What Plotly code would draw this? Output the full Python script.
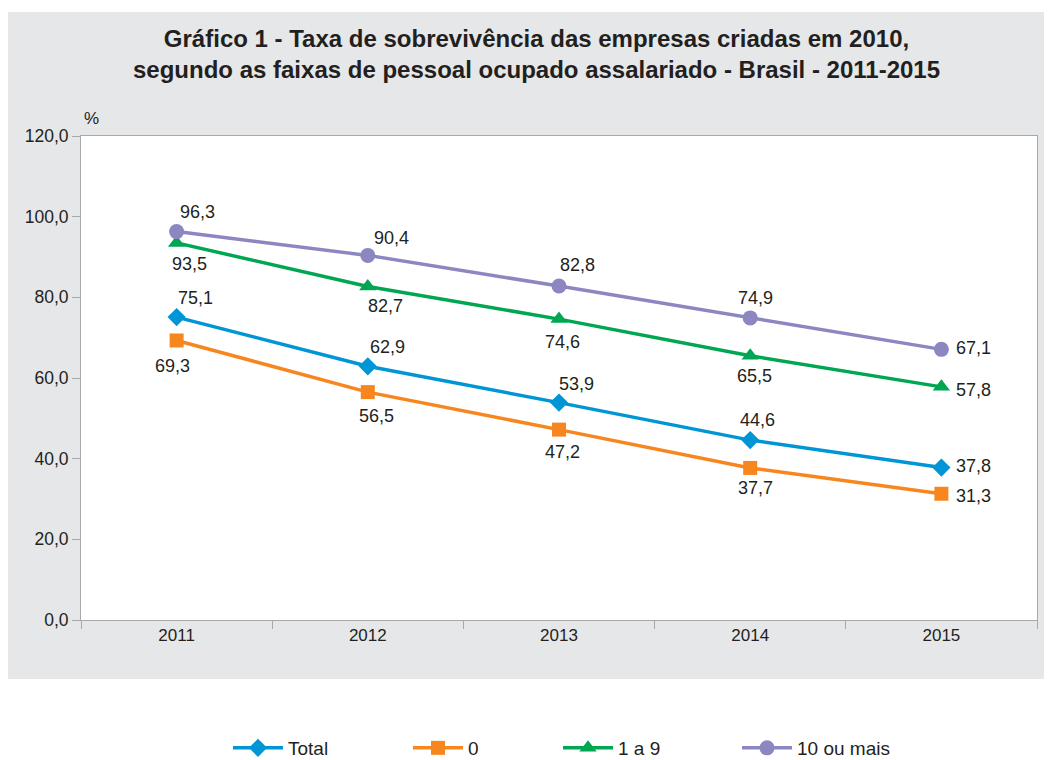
import plotly.graph_objects as go

# ---------------- data ----------------
years = ["2011", "2012", "2013", "2014", "2015"]
total = [75.1, 62.9, 53.9, 44.6, 37.8]
zero = [69.3, 56.5, 47.2, 37.7, 31.3]
one_to_nine = [93.5, 82.7, 74.6, 65.5, 57.8]
ten_plus = [96.3, 90.4, 82.8, 74.9, 67.1]
series_names = ["Total", "0", "1 a 9", "10 ou mais"]
y_ticks = [0, 20, 40, 60, 80, 100, 120]
y_ticklabels = ["0,0", "20,0", "40,0", "60,0", "80,0", "100,0", "120,0"]

# ---------------- styling / layout geometry ----------------
OFF = 8                      # page body margin of the html page
W, H = 1052 - OFF, 760 - OFF
# plot area in reference-screen pixels
RL, RR, RT, RB = 81, 1037, 136, 620
L, R, T, B = RL - OFF, RR - OFF, RT - OFF, RB - OFF
PW, PH = R - L, B - T

def px_x(p):
    """reference screen x pixel -> paper fraction"""
    return (p - OFF - L) / PW

def px_y(p):
    """reference screen y pixel -> paper fraction"""
    return (B - (p - OFF)) / PH

colors = ["#0096d6", "#f7861f", "#00a651", "#8c86c1"]
symbols = ["diamond", "square", "triangle-up", "circle"]
msizes = [14, 14, 15, 15]
txt_color = "#231f20"
axis_color = "#a7a9ac"
gray_bg = "#e6e7e8"
font_fam = "Liberation Sans, Arial, Helvetica, sans-serif"

# label offsets (dx, dy) in pixels, dy positive = upward
offsets = [
    [(19, 19), (20, 19), (17, 19), (7, 20), (32, 2)],       # Total
    [(-4, -26), (9, -24), (3, -22), (5, -20), (32, -2)],    # 0
    [(13, -21), (18, -20), (3, -23), (4, -20), (32, -3)],   # 1 a 9
    [(21, 20), (24, 17), (18, 21), (5, 20), (32, 1)],       # 10 ou mais
]

# legend line start x positions (reference px) and centre y
legend_line_px = [233, 413, 563, 742]
legend_py = 748

all_series = [total, zero, one_to_nine, ten_plus]

fig = go.Figure()
for i, (name, vals) in enumerate(zip(series_names, all_series)):
    fig.add_trace(go.Scatter(
        x=years, y=vals, name=name, mode="lines+markers",
        line=dict(color=colors[i], width=3.5),
        marker=dict(symbol=symbols[i], size=msizes[i], color=colors[i],
                    line=dict(width=0)),
        legend="legend" if i == 0 else f"legend{i+1}",
        hoverinfo="x+y+name",
    ))

annotations = []
for i, vals in enumerate(all_series):
    for j, v in enumerate(vals):
        dx, dy = offsets[i][j]
        annotations.append(dict(
            x=j, y=v, xref="x", yref="y",   # category index of years[j]
            text=f"{v:.1f}".replace(".", ","),
            showarrow=False, xshift=dx, yshift=dy,
            font=dict(size=18, color=txt_color, family=font_fam),
            xanchor="center", yanchor="middle",
        ))

# title
annotations.append(dict(
    x=px_x(536), y=px_y(54), xref="paper", yref="paper",
    text="<b>Gráfico 1 - Taxa de sobrevivência das empresas criadas em 2010,<br>"
         "segundo as faixas de pessoal ocupado assalariado - Brasil - 2011-2015</b>",
    showarrow=False, xanchor="center", yanchor="middle", align="center",
    font=dict(size=24, color=txt_color, family=font_fam),
))
# % unit label
annotations.append(dict(
    x=px_x(82), y=px_y(118), xref="paper", yref="paper", text="%",
    showarrow=False, xanchor="left", yanchor="middle",
    font=dict(size=17, color=txt_color, family=font_fam),
))

shapes = [
    dict(type="rect", xref="paper", yref="paper",
         x0=px_x(7), x1=px_x(1049), y0=px_y(679), y1=px_y(12),
         fillcolor=gray_bg, line=dict(width=0), layer="below"),
    dict(type="rect", xref="paper", yref="paper",
         x0=0, x1=1, y0=0, y1=1,
         fillcolor="white", line=dict(width=0), layer="below"),
]

legend_common = dict(
    orientation="h", yanchor="middle", xanchor="left",
    bgcolor="rgba(0,0,0,0)", borderwidth=0, itemwidth=50,
    font=dict(size=19, color=txt_color, family=font_fam),
    itemclick=False, itemdoubleclick=False,
)
legends = {}
for i in range(4):
    key = "legend" if i == 0 else f"legend{i+1}"
    legends[key] = dict(legend_common, x=px_x(legend_line_px[i] - 5),
                        y=px_y(legend_py))

fig.update_layout(
    width=W, height=H,
    margin=dict(l=L, r=W - R, t=T, b=H - B, pad=0, autoexpand=False),
    paper_bgcolor="white",
    plot_bgcolor="rgba(0,0,0,0)",
    showlegend=True,
    annotations=annotations,
    shapes=shapes,
    font=dict(family=font_fam, color=txt_color),
    xaxis=dict(
        type="category", range=[-0.5, 4.5], tickson="boundaries",
        ticks="outside", ticklen=8, tickcolor=axis_color, tickwidth=1,
        showline=True, linecolor=axis_color, linewidth=1, mirror=True,
        showgrid=False, zeroline=False, automargin=False,
        tickfont=dict(size=17, color=txt_color, family=font_fam),
        fixedrange=True,
    ),
    yaxis=dict(
        range=[0, 120], tickvals=y_ticks, ticktext=y_ticklabels,
        ticks="outside", ticklen=8, tickcolor=axis_color, tickwidth=1,
        showline=True, linecolor=axis_color, linewidth=1, mirror=True,
        showgrid=False, zeroline=False, automargin=False,
        tickfont=dict(size=17.5, color=txt_color, family=font_fam),
        fixedrange=True,
    ),
    **legends,
)

fig.write_html("out.html")
